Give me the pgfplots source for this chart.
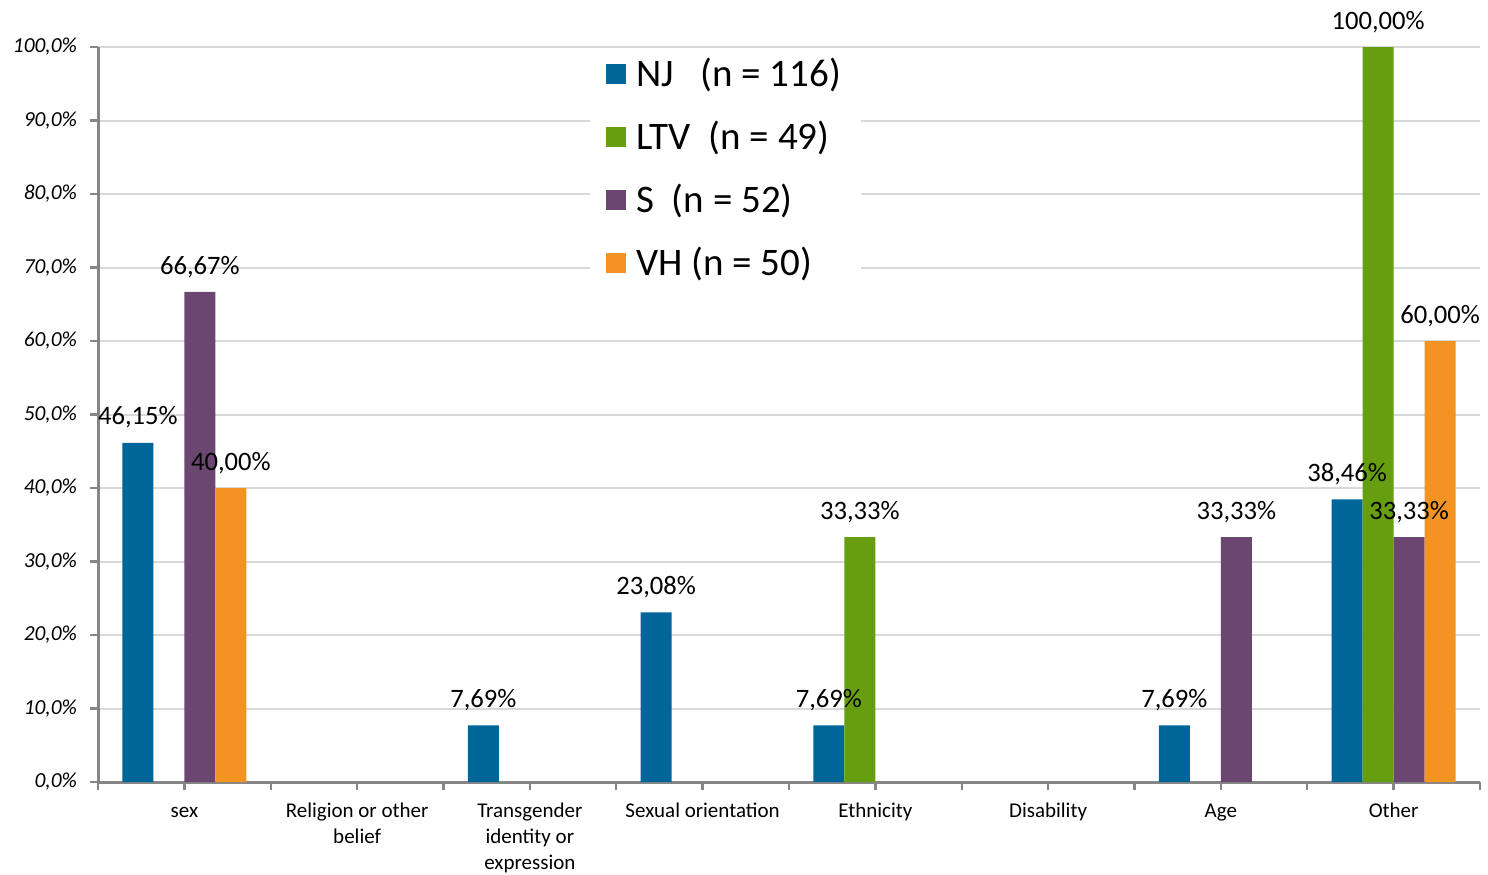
\documentclass[border=0pt]{standalone}
\usepackage{pgfplots}
\pgfplotsset{compat=1.18}
\usepackage{fontspec}
\setmainfont{Carlito}
\definecolor{cNJ}{RGB}{0,102,153}
\definecolor{cLTV}{RGB}{102,158,16}
\definecolor{cS}{RGB}{107,70,113}
\definecolor{cVH}{RGB}{243,147,33}
\definecolor{axgray}{RGB}{134,134,134}
\definecolor{gridgray}{RGB}{217,217,217}
\pgfkeys{/pgf/number format/assume math mode=true}
\begin{document}
\begin{tikzpicture}
\begin{axis}[
  name=ax,
  scale only axis,
  width=691pt, height=367.5pt,
  ybar=0pt, bar width=15.5pt,
  xmin=-0.5, xmax=7.5,
  ymin=0, ymax=100,
  clip=false,
  axis x line*=bottom, axis y line*=left,
  axis line style={-, draw=axgray, line width=1.5pt},
  tick style={draw=axgray, line width=1.2pt},
  tick align=outside,
  major tick length=4pt,
  xtick={0,...,7},
  xticklabels={\strut sex, \strut Religion or other\\belief, \strut Transgender\\identity or\\expression, \strut Sexual orientation, \strut Ethnicity, \strut Disability, \strut Age, \strut Other},
  xticklabel style={align=center, font=\fontsize{10.5}{13}\selectfont, yshift=-1pt},
  extra x ticks={-0.5,0.5,1.5,2.5,3.5,4.5,5.5,6.5,7.5},
  extra x tick labels={},
  extra x tick style={grid=none},
  ytick={0,10,...,100},
  yticklabel={\itshape\pgfmathprintnumber[fixed,fixed zerofill,precision=1,use comma]{\tick}\%},
  yticklabel style={font=\fontsize{10.7}{12}\selectfont, xshift=-3pt},
  ymajorgrids,
  grid style={draw=gridgray, line width=1pt},
  nodes near coords={\pgfmathprintnumber[fixed,fixed zerofill,precision=2,use comma]{\pgfplotspointmeta}\%},
  every node near coord/.append style={font=\fontsize{13.3}{15}\selectfont, text=black, anchor=south, inner sep=0pt, yshift=7pt},
  legend style={at={(0.356,0.996)}, anchor=north west, draw=none, fill=white,
    font=\fontsize{19.5}{23}\selectfont, row sep=11.7pt, inner xsep=8pt,
    /tikz/every even column/.append style={column sep=5pt}},
  legend cell align=left,
  legend image code/.code={\fill[#1] (0pt,-5pt) rectangle (10pt,5pt);},
]
\addplot[fill=cNJ, draw=none] coordinates {(0,46.15) (2,7.69) (3,23.08) (4,7.69) (6,7.69) (7,38.46)};
\addplot[fill=cLTV, draw=none] coordinates {(4,33.33) (7,100)};
\addplot[fill=cS, draw=none] coordinates {(0,66.67) (6,33.33) (7,33.33)};
\addplot[fill=cVH, draw=none] coordinates {(0,40) (7,60)};
\legend{\hspace{3pt}NJ\ \ \ (n = 116), \hspace{3pt}LTV\ \ (n = 49), \hspace{3pt}S\ \ (n = 52), \hspace{3pt}VH (n = 50)}
\end{axis}
\pgfresetboundingbox
\path[use as bounding box] ([shift={(-49pt,-46pt)}]ax.south west) rectangle ++(744pt,437pt);
\end{tikzpicture}
\end{document}
